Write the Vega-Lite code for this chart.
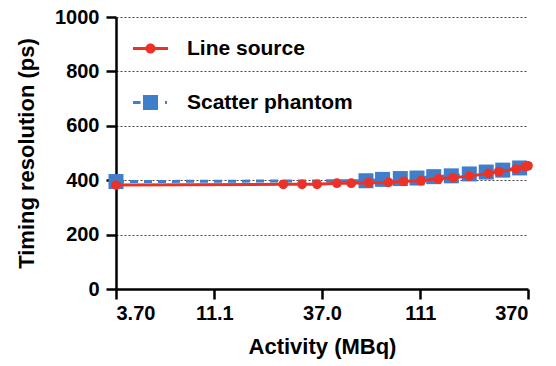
{
  "$schema": "https://vega.github.io/schema/vega-lite/v6.json",
  "width": 412,
  "height": 272,
  "autosize": {"type": "none"},
  "padding": {"left": 116, "top": 17, "right": 28, "bottom": 77},
  "background": "white",
  "config": {
    "view": {"stroke": null},
    "font": "Liberation Sans",
    "axis": {
      "labelFont": "Liberation Sans",
      "labelFontWeight": "bold",
      "labelFontSize": 20,
      "labelColor": "black",
      "titleFont": "Liberation Sans",
      "titleFontWeight": "bold",
      "titleFontSize": 22,
      "titleColor": "black",
      "domainColor": "black",
      "domainWidth": 2.5,
      "tickColor": "black",
      "tickWidth": 2.5,
      "tickSize": 10,
      "labelPadding": 4
    }
  },
  "data": {
    "values": [
      {"series": "Line source", "activity": 3.7, "resolution": 382},
      {"series": "Line source", "activity": 24.0, "resolution": 385},
      {"series": "Line source", "activity": 29.6, "resolution": 385},
      {"series": "Line source", "activity": 35.0, "resolution": 385},
      {"series": "Line source", "activity": 43.7, "resolution": 389},
      {"series": "Line source", "activity": 51.3, "resolution": 389},
      {"series": "Line source", "activity": 62.3, "resolution": 391},
      {"series": "Line source", "activity": 77.9, "resolution": 392},
      {"series": "Line source", "activity": 92.1, "resolution": 396},
      {"series": "Line source", "activity": 112, "resolution": 398},
      {"series": "Line source", "activity": 136, "resolution": 405},
      {"series": "Line source", "activity": 160, "resolution": 409},
      {"series": "Line source", "activity": 192, "resolution": 415},
      {"series": "Line source", "activity": 238, "resolution": 425},
      {"series": "Line source", "activity": 267, "resolution": 431},
      {"series": "Line source", "activity": 324, "resolution": 441},
      {"series": "Line source", "activity": 359, "resolution": 450},
      {"series": "Line source", "activity": 370, "resolution": 453},
      {"series": "Scatter phantom", "activity": 3.7, "resolution": 395},
      {"series": "Scatter phantom", "activity": 60.5, "resolution": 398},
      {"series": "Scatter phantom", "activity": 72.8, "resolution": 403},
      {"series": "Scatter phantom", "activity": 88.8, "resolution": 406},
      {"series": "Scatter phantom", "activity": 107, "resolution": 408},
      {"series": "Scatter phantom", "activity": 129, "resolution": 413},
      {"series": "Scatter phantom", "activity": 157, "resolution": 416},
      {"series": "Scatter phantom", "activity": 192, "resolution": 423},
      {"series": "Scatter phantom", "activity": 232, "resolution": 430},
      {"series": "Scatter phantom", "activity": 279, "resolution": 437},
      {"series": "Scatter phantom", "activity": 337, "resolution": 445}
    ]
  },
  "encoding": {
    "x": {
      "field": "activity",
      "type": "quantitative",
      "scale": {"type": "log", "domain": [3.7, 370], "nice": false},
      "axis": {
        "title": "Activity (MBq)",
        "values": [3.7, 11.1, 37, 111, 370],
        "format": ".3r",
        "grid": false,
        "titlePadding": 13
      }
    },
    "y": {
      "field": "resolution",
      "type": "quantitative",
      "scale": {"domain": [0, 1000], "nice": false},
      "axis": {
        "title": "Timing resolution (ps)",
        "values": [0, 200, 400, 600, 800, 1000],
        "format": "d",
        "grid": true,
        "gridColor": "#444444",
        "gridDash": [2, 2],
        "gridWidth": 1,
        "labelPadding": 7,
        "titlePadding": 16
      }
    },
    "color": {
      "field": "series",
      "type": "nominal",
      "scale": {"domain": ["Line source", "Scatter phantom"], "range": ["#ec3228", "#3f7ecb"]},
      "legend": {
        "title": null,
        "orient": "none",
        "legendX": 17,
        "legendY": 14,
        "padding": 0,
        "symbolSize": 1225,
        "rowPadding": 26,
        "labelOffset": 19,
        "labelFont": "Liberation Sans",
        "labelFontWeight": "bold",
        "labelFontSize": 21,
        "labelColor": "black",
        "labelLimit": 300,
        "encode": {
          "symbols": {
            "update": {
              "shape": {"signal": "datum.value === 'Line source' ? 'M-1,-0.09H1V0.09H-1Z M0.29,0A0.29,0.29 0 1,1 -0.29,0A0.29,0.29 0 1,1 0.29,0Z' : 'M-1,-0.09H-0.57V0.09H-1Z M-0.43,-0.43H0.43V0.43H-0.43Z M0.83,-0.09H0.94V0.09H0.83Z'"},
              "fill": {"signal": "scale('color', datum.value)"},
              "fillOpacity": {"value": 1},
              "opacity": {"value": 1},
              "stroke": {"value": "transparent"},
              "strokeWidth": {"value": 0},
              "strokeDash": {"value": []},
              "size": {"value": 1225}
            }
          }
        }
      }
    }
  },
  "layer": [
    {
      "transform": [{"filter": "datum.series === 'Scatter phantom'"}],
      "mark": {"type": "line", "strokeWidth": 3, "strokeDash": [8, 6]}
    },
    {
      "transform": [{"filter": "datum.series === 'Scatter phantom'"}],
      "mark": {"type": "point", "shape": "square", "filled": true, "size": 225, "opacity": 1}
    },
    {
      "transform": [{"filter": "datum.series === 'Line source'"}],
      "mark": {"type": "line", "strokeWidth": 3}
    },
    {
      "transform": [{"filter": "datum.series === 'Line source'"}],
      "mark": {"type": "point", "shape": "circle", "filled": true, "size": 95, "opacity": 1}
    }
  ]
}
